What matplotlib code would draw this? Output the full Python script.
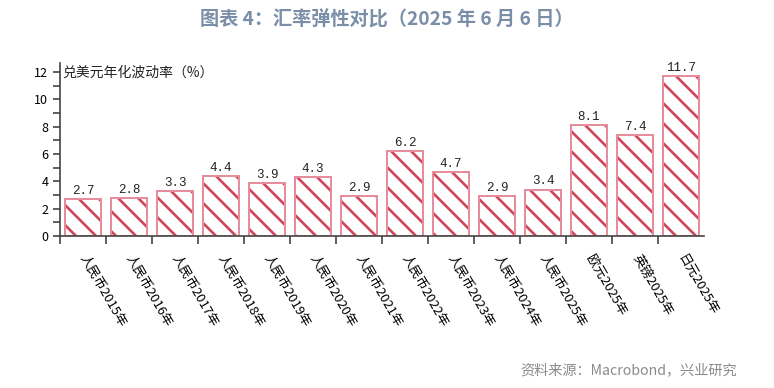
import matplotlib
matplotlib.use("Agg")
import matplotlib.pyplot as plt
import numpy as np

plt.rcParams['font.family'] = ['Noto Sans CJK SC', 'DejaVu Sans']
plt.rcParams['hatch.linewidth'] = 1.6

categories = ["人民币2015年", "人民币2016年", "人民币2017年", "人民币2018年",
              "人民币2019年", "人民币2020年", "人民币2021年", "人民币2022年",
              "人民币2023年", "人民币2024年", "人民币2025年", "欧元2025年",
              "英镑2025年", "日元2025年"]
values = [2.7, 2.8, 3.3, 4.4, 3.9, 4.3, 2.9, 6.2, 4.7, 2.9, 3.4, 8.1, 7.4, 11.7]
yticks = [0, 2, 4, 6, 8, 10, 12]

title = "图表 4：汇率弹性对比（2025 年 6 月 6 日）"
ylabel = "兑美元年化波动率（%）"
source = "资料来源：Macrobond，兴业研究"

STRIPE = "#d0465c"
EDGE = "#e68c9a"

DPI = 120
fig = plt.figure(figsize=(774 / DPI, 388 / DPI), dpi=DPI)
ax = fig.add_axes([60 / 774, 1 - 236 / 388, 644 / 774, 173 / 388])

x = np.arange(len(categories))
# hatch drawn with stripe colour, outline drawn separately in lighter pink
ax.bar(x, values, width=0.8, facecolor="white", edgecolor=STRIPE,
       hatch="\\\\", linewidth=0)
ax.bar(x, values, width=0.8, facecolor="none", edgecolor=EDGE, linewidth=1.2)

for xi, v in zip(x, values):
    ax.text(xi, v + 0.15, f"{v:.1f}", ha="center", va="bottom",
            fontsize=7.5, color="#222222", family=["Liberation Mono", "DejaVu Sans"])

ax.set_xlim(-0.5, len(categories) - 0.5)
ax.set_ylim(0, 12.65)
ax.set_yticks(yticks)
ax.set_yticks(np.arange(1, 12, 2), minor=True)
ax.tick_params(axis="y", which="both", direction="out", length=4, width=1,
               labelsize=7.5, pad=3, color="#444444")

ax.set_xticks(x)
ax.set_xticklabels(categories, rotation=-60, ha="left", va="center",
                   rotation_mode="anchor", fontsize=7.8)
ax.set_xticks(np.arange(-0.5, len(categories) - 1, 1), minor=True)
ax.tick_params(axis="x", which="major", length=0, pad=12)
ax.tick_params(axis="x", which="minor", direction="out", length=5, width=1,
               color="#444444")

for s in ["top", "right"]:
    ax.spines[s].set_visible(False)
for s in ["left", "bottom"]:
    ax.spines[s].set_color("#444444")
    ax.spines[s].set_linewidth(1.0)

ax.text(0.003, 0.985, ylabel, transform=ax.transAxes, ha="left", va="top",
        fontsize=8.3, color="#222222")

fig.text(0.5, 1 - 20 / 388, title, ha="center", va="center", fontsize=11.5,
         fontweight="bold", color="#7b8ea8")
fig.text(737 / 774, 1 - 370 / 388, source, ha="right", va="center",
         fontsize=8.5, color="#8a8a8a")

fig.savefig("out.png", dpi=DPI)
